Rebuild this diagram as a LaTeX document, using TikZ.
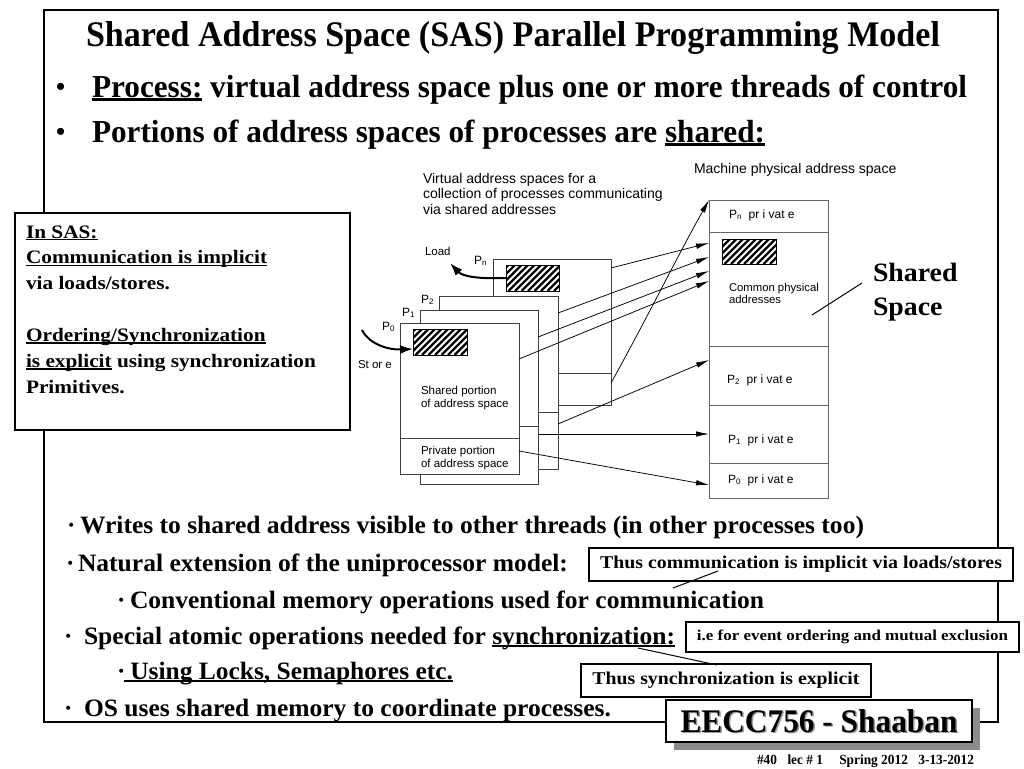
\documentclass[tikz,border=0pt]{standalone}
\usepackage{graphicx}
\usepackage{fontspec}
\setmainfont{Liberation Serif}
\newfontfamily\lsans{Liberation Sans}
\usetikzlibrary{arrows.meta,calc}
\newsavebox\ulbox
\newcommand\myul[1]{\sbox\ulbox{#1}\rlap{\rule[-0.11em]{\wd\ulbox}{0.065em}}\usebox\ulbox}
\newcommand\fitw[2]{\resizebox{#1pt}{\height}{#2}}
\newcommand\fs[1]{\fontsize{#1}{#1}\selectfont}
\begin{document}
\begin{tikzpicture}[x=1pt,y=-1pt,
  every node/.style={inner sep=0pt,outer sep=0pt},
  sb/.style={anchor=base west,font=\bfseries\fs{#1}},
  ss/.style={anchor=base west,font=\lsans\fs{#1}},
  vbox/.style={draw=black!75,line width=0.9,fill=white,anchor=north west},
  pbox/.style={draw=black!60,line width=0.9,fill=white,anchor=north west,minimum width=119},
  hatchbox/.style={draw=black,line width=0.8,anchor=north west,
     path picture={\foreach \k in {0,6.5,...,90}{\draw[line width=2.3pt] ($(path picture bounding box.south west)+(\k-30,0)$) -- ++(40,-40);}}},
  thinarr/.style={line width=0.75,-{Latex[length=13,width=5.5]}},
  fatarr/.style={line width=2,-{Latex[length=13,width=9]}},
  callout/.style={draw,line width=1.3,fill=white,anchor=north west,font=\bfseries}]
\fill[white] (0,0) rectangle (1024,768);
\useasboundingbox (0,0) rectangle (1024,768);
% outer frame
\node[draw,line width=2.5,anchor=north west,minimum width=954,minimum height=712] (frame) at (44,10) {};
% title and top bullets
\node[sb=36] (title) at (86,47) {\fitw{854}{Shared Address Space (SAS) Parallel Programming Model}};
\node[sb=26] (bd1) at (56,95) {•};
\node[sb=32] (b1) at (92,97) {\fitw{875}{\myul{Process:} virtual address space plus one or more threads of control}};
\node[sb=26] (bd2) at (56,140) {•};
\node[sb=32] (b2) at (92,142) {\fitw{673}{Portions of address spaces of processes are \myul{shared:}}};
% left box
\node[draw,line width=1.3,fill=white,anchor=north west,minimum width=335,minimum height=217] (sasbox) at (15,213) {};
\node[anchor=base west,font=\bfseries\fs{19}] (sastext) at (26,238) {\scalebox{1.12}[1]{\fontsize{19}{25.9}\selectfont\begin{tabular}[t]{@{}l@{}}
\myul{In SAS:}\\
\myul{Communication is implicit}\\
via loads/stores.\\
\\
\myul{Ordering/Synchronization}\\
\myul{is explicit} using synchronization\\
Primitives.
\end{tabular}}};
% diagram captions
\node[ss=14] (vt1) at (423,183) {Virtual address spaces for a};
\node[ss=14] (vt2) at (423,198.5) {collection of processes communicating};
\node[ss=14] (vt3) at (423,214.5) {via shared addresses};
\node[ss=14] (mt) at (694,173) {Machine physical address space};
% virtual address space stack
\node[vbox,minimum width=118,minimum height=146] (pn) at (493,259) {};
\draw[draw=black!75,line width=0.9] (pn.west |- 0,373) -- (pn.east |- 0,373);
\node[hatchbox,minimum width=53,minimum height=26] (pnh) at (506,265) {};
\node[vbox,minimum width=119,minimum height=173] (p2) at (439,296) {};
\draw[draw=black!75,line width=0.9] (p2.west |- 0,412) -- (p2.east |- 0,412);
\node[vbox,minimum width=118,minimum height=174] (p1) at (420,310) {};
\draw[draw=black!75,line width=0.9] (p1.west |- 0,426) -- (p1.east |- 0,426);
\node[vbox,minimum width=119,minimum height=151] (p0) at (400,323) {};
\draw[draw=black!75,line width=0.9] (p0.west |- 0,438) -- (p0.east |- 0,438);
\node[hatchbox,minimum width=54,minimum height=26] (p0h) at (413,329) {};
\node[ss=11.5] (sp1) at (421,394) {Shared portion};
\node[ss=11.5] (sp2) at (421,407) {of address space};
\node[ss=11.5] (pp1) at (421,454) {Private portion};
\node[ss=11.5] (pp2) at (421,467) {of address space};
% process labels
\node[ss=12] (lpn) at (474,264) {P\textsubscript{n}};
\node[ss=12] (lp2) at (421,303) {P\textsubscript{2}};
\node[ss=12] (lp1) at (402,316) {P\textsubscript{1}};
\node[ss=12] (lp0) at (382,330) {P\textsubscript{0}};
\node[ss=11.5] (lload) at (425,255) {Load};
\node[ss=11.5] (lstore) at (358,368) {St or e};
% physical address space
\node[pbox,minimum height=32] (pnp) at (709,200) {};
\node[pbox,minimum height=114] (com) at (709,232) {};
\node[pbox,minimum height=59] (p2p) at (709,346) {};
\node[pbox,minimum height=58] (p1p) at (709,405) {};
\node[pbox,minimum height=35] (p0p) at (709,463) {};
\node[hatchbox,minimum width=54,minimum height=25] (comh) at (722,239) {};
\node[ss=11.3] (cp1) at (729,291) {Common physical};
\node[ss=11.3] (cp2) at (729,303) {addresses};
\node[ss=12] (tpn) at (729,218) {P\textsubscript{n}\ \ pr i vat e};
\node[ss=12] (tp2) at (727,383) {P\textsubscript{2}\ \ pr i vat e};
\node[ss=12] (tp1) at (728,443) {P\textsubscript{1}\ \ pr i vat e};
\node[ss=12] (tp0) at (728,483) {P\textsubscript{0}\ \ pr i vat e};
% arrows
\draw[thinarr] (pn.east |- 0,268) -- (com.west |- 0,243);
\draw[thinarr] (p2.east |- 0,313) -- (com.west |- 0,257);
\draw[thinarr] (p1.east |- 0,337) -- (com.west |- 0,271);
\draw[thinarr] (p0.east |- 0,359) -- (com.west |- 0,281);
\draw[thinarr] (pn.east |- 0,383) .. controls (645,322) and (678,255) .. (pnp.north west);
\draw[thinarr] (p2.east |- 0,424) -- (p2p.west |- 0,360);
\draw[thinarr] (p1.east |- 0,434) -- (p1p.west |- 0,434);
\draw[thinarr] (p0.east |- 0,451) -- (p0p.west |- 0,485);
\coordinate (loadend) at (450,263);
\draw[fatarr] (pnh.west) .. controls (482,279) and (463,277) .. (loadend);
\coordinate (storestart) at (362,330);
\draw[fatarr] (storestart) .. controls (369,344) and (388,350) .. (p0h.west |- 0,349);
% shared space
\node[sb=26.5] (ssa) at (873,281) {\scalebox{1.05}[1]{Shared}};
\node[sb=26.5] (ssb) at (873,315) {\scalebox{1.05}[1]{Space}};
\coordinate (ssp) at (812,315);
\draw[line width=1] (ssp) -- ($(ssa.base west)+(-11,2)$);
% lower bullets
\node[sb=25] (d1) at (67,533) {·};
\node[sb=25] (l1) at (80,533) {\fitw{784}{Writes to shared address visible to other threads (in other processes too)}};
\node[sb=25] (d2) at (66,571) {·};
\node[sb=25] (l2) at (78,571) {\fitw{490}{Natural extension of the uniprocessor model:}};
\node[sb=25] (d3) at (117,608) {·};
\node[sb=25] (l3) at (130,608) {\fitw{634}{Conventional memory operations used for communication}};
\node[sb=25] (d4) at (64,644) {·};
\node[sb=25] (l4) at (84,644) {\fitw{591}{Special atomic operations needed for \myul{synchronization:}}};
\node[sb=25] (d5) at (117,679) {·};
\node[sb=25] (l5) at (124,679) {\fitw{329}{\myul{\ Using Locks, Semaphores etc.}}};
\node[sb=25] (d6) at (64,716) {·};
\node[sb=25] (l6) at (84,716) {\fitw{527}{OS uses shared memory to coordinate processes.}};
% callouts
\node[callout,minimum width=424,minimum height=33] (c1) at (589,548) {\fs{18}\fitw{402}{Thus communication is implicit via loads/stores}};
\node[callout,minimum width=333,minimum height=30] (c2) at (686,622) {\fs{15}\fitw{311}{i.e for event ordering and mutual exclusion}};
\node[callout,minimum width=290,minimum height=33] (c3) at (581,664) {\fs{18}\fitw{267}{Thus synchronization is explicit}};
\draw[line width=1] ($(c1.south west)+(84,7)$) -- ($(c1.south west)+(129,-10)$);
\draw[line width=1] ($(l4.base east)+(-37,4)$) -- ($(c3.north west)+(136,1)$);
% EECC box
\node[fill=black!45,anchor=north west,minimum width=306,minimum height=42] (eshadow) at (674,708) {};
\node[draw,line width=1.3,fill=white,anchor=north west,minimum width=306,minimum height=42] (eecc) at (666,700) {};
\node[font=\bfseries\fs{33},text=black!40] (eecct2) at ($(eecc.center)+(1.5,1.5)$) {\fitw{277}{EECC756 - Shaaban}};
\node[font=\bfseries\fs{33}] (eecct) at (eecc.center) {\fitw{277}{EECC756 - Shaaban}};
\node[sb=14] (foot) at (757,764) {\fitw{217}{\#40\hspace{11pt}lec \# 1\hspace{17pt}Spring 2012\hspace{11pt}3-13-2012}};
\end{tikzpicture}
\end{document}
